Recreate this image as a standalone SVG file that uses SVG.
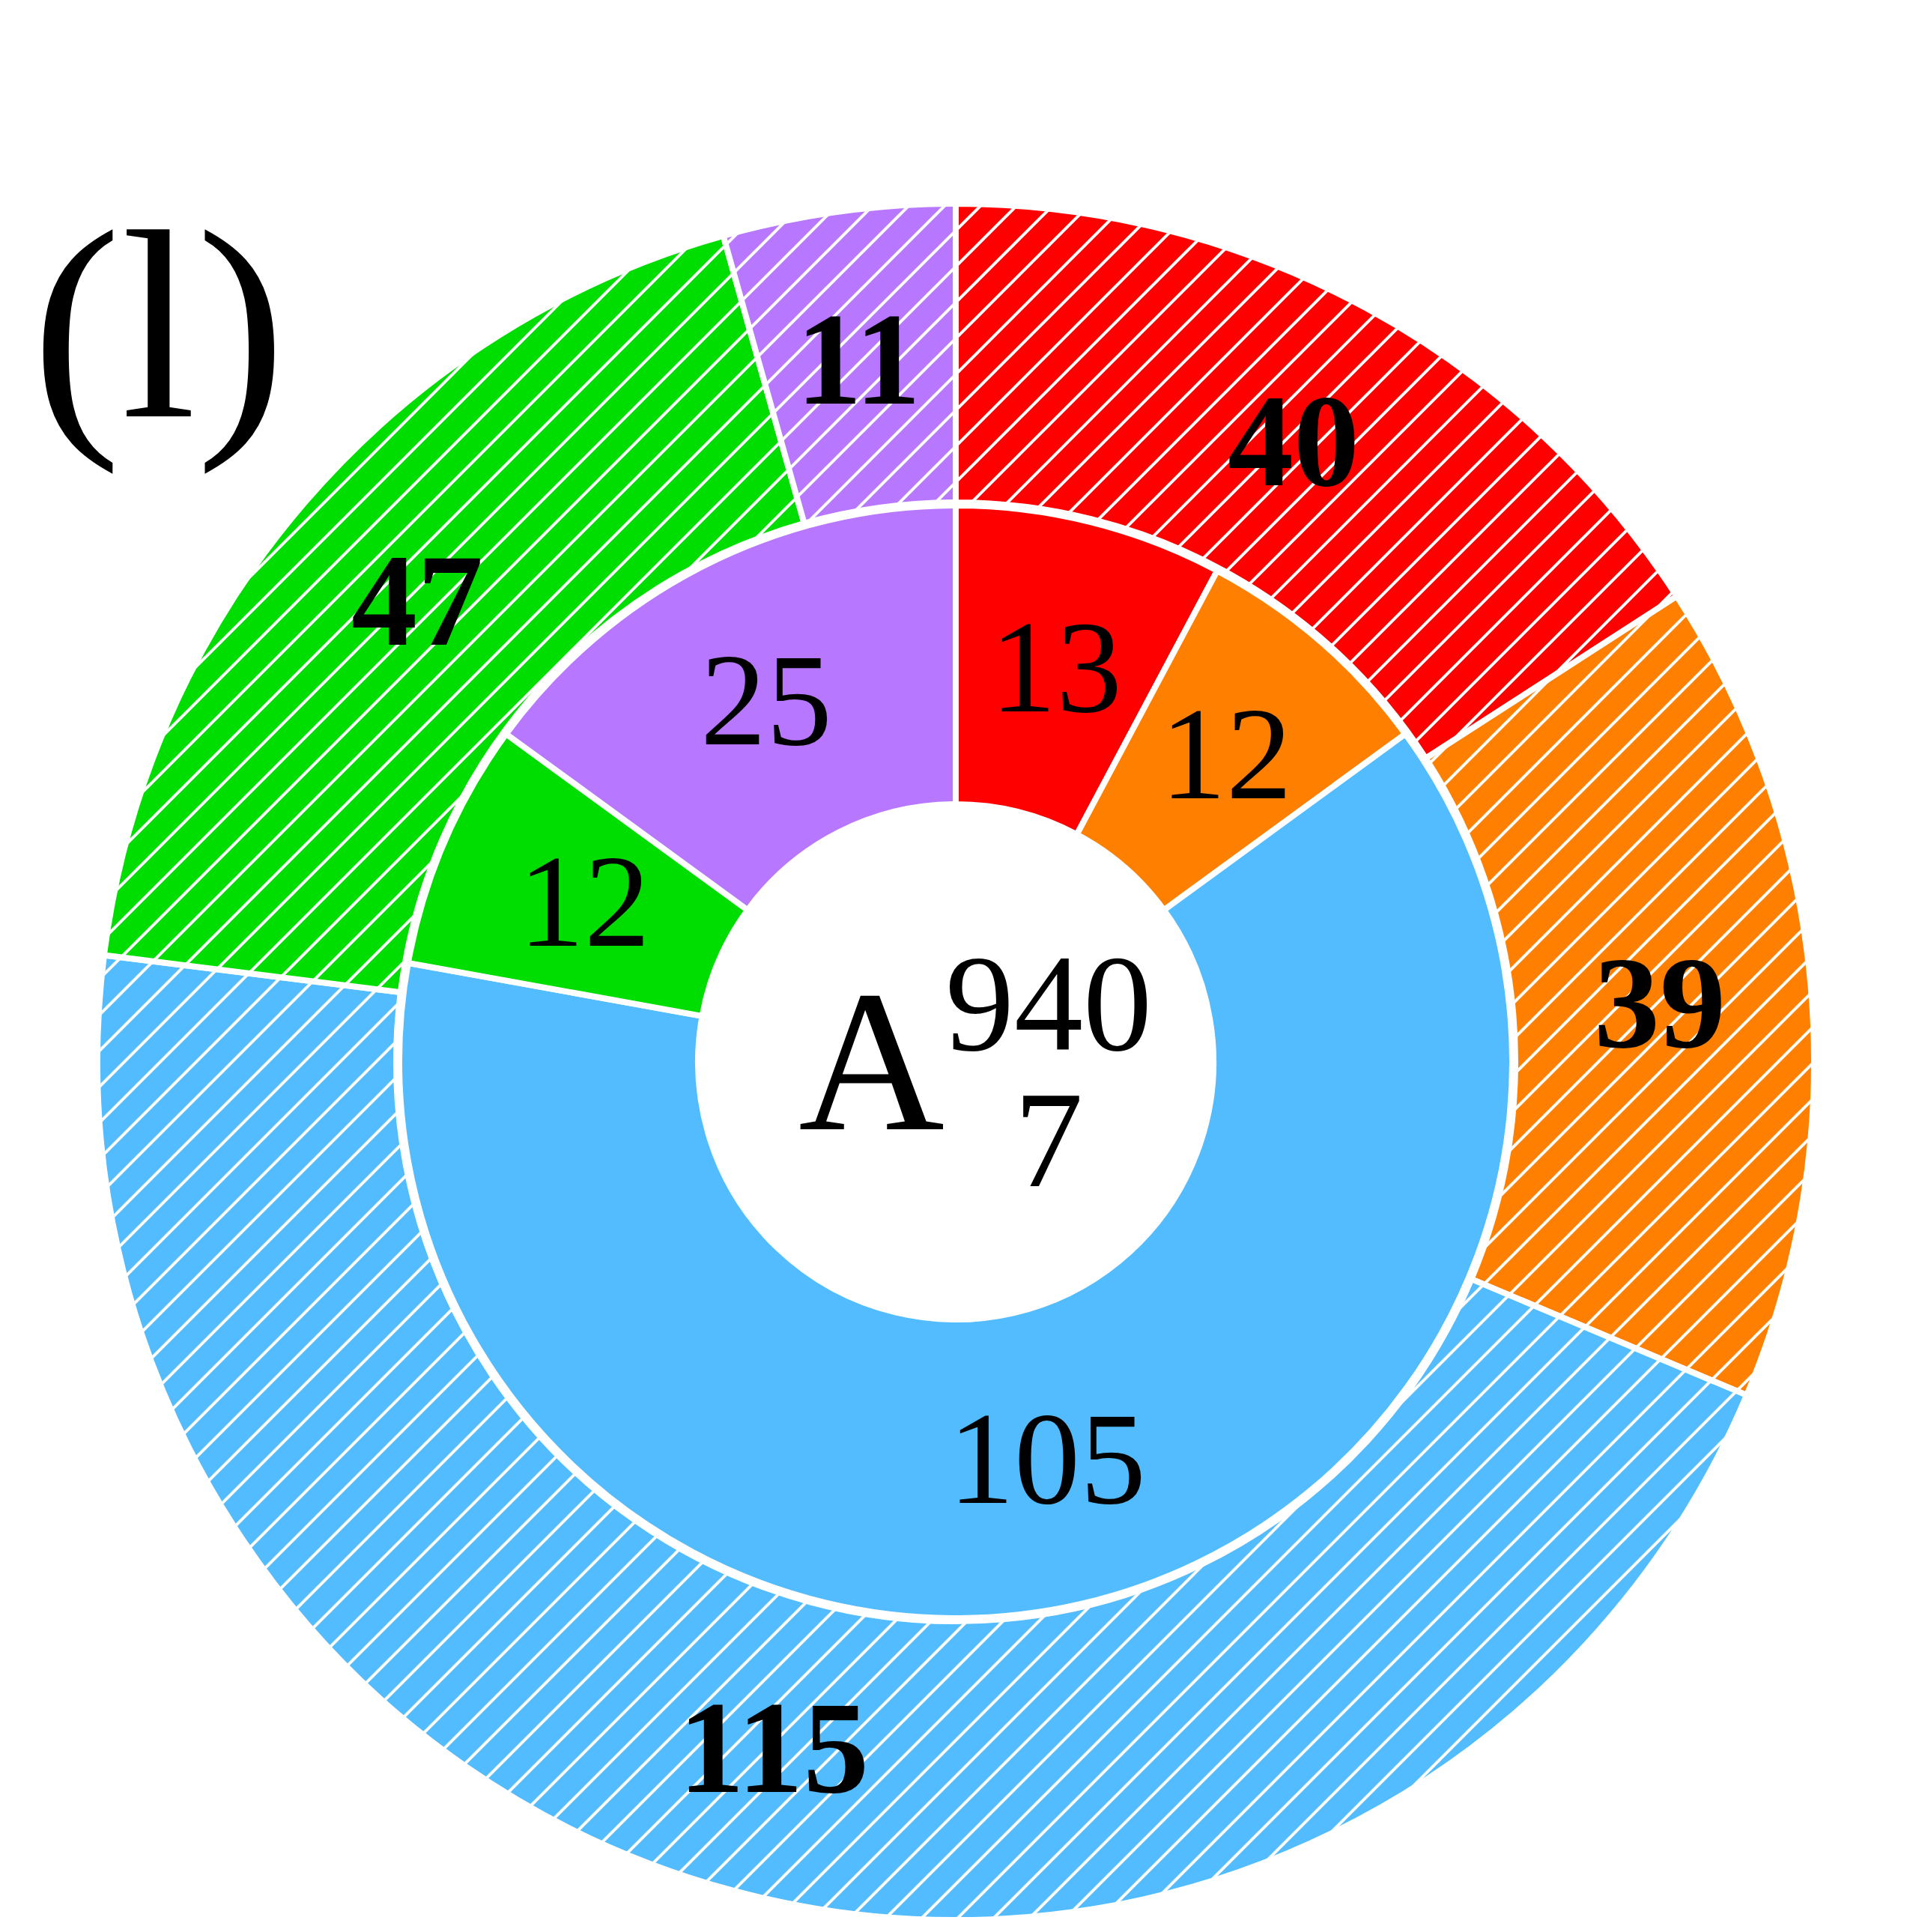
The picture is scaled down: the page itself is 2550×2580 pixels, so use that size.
<svg xmlns="http://www.w3.org/2000/svg" width="2550" height="2580" viewBox="0 0 2550 2580">
<style>
.w{stroke:#fff;stroke-width:8;stroke-linejoin:miter}
.h{fill:url(#hatch);stroke:none}
.t{font-family:"Liberation Serif","Times New Roman",serif;fill:#000}
.lab{font-size:176px;text-anchor:middle}
.b{font-weight:bold}
</style>
<defs>
<pattern id="hatch" patternUnits="userSpaceOnUse" width="48" height="48">
<path d="M-12,12 L12,-12 M0,48 L48,0 M36,60 L60,36" stroke="#fff" stroke-width="4"/>
</pattern>
</defs>
<rect width="2550" height="2580" fill="#fff"/>
<g id="outer-red">
<path class="w" fill="#ff0000" d="M1276,272 A1146,1146 0 0 1 2238.67,796.24 L1903.50,1012.72 A747,747 0 0 0 1276,671 Z"/>
<path class="h" d="M1276,272 A1146,1146 0 0 1 2238.67,796.24 L1903.50,1012.72 A747,747 0 0 0 1276,671 Z"/>
</g>
<g id="outer-orange">
<path class="w" fill="#ff8000" d="M2238.67,796.24 A1146,1146 0 0 1 2332.02,1863.14 L1964.35,1708.16 A747,747 0 0 0 1903.50,1012.72 Z"/>
<path class="h" d="M2238.67,796.24 A1146,1146 0 0 1 2332.02,1863.14 L1964.35,1708.16 A747,747 0 0 0 1903.50,1012.72 Z"/>
</g>
<g id="outer-blue">
<path class="w" fill="#52bcff" d="M2332.02,1863.14 A1146,1146 0 0 1 138.89,1275.50 L534.80,1325.12 A747,747 0 0 0 1964.35,1708.16 Z"/>
<path class="h" d="M2332.02,1863.14 A1146,1146 0 0 1 138.89,1275.50 L534.80,1325.12 A747,747 0 0 0 1964.35,1708.16 Z"/>
</g>
<g id="outer-green">
<path class="w" fill="#00dd00" d="M138.89,1275.50 A1146,1146 0 0 1 965.62,314.83 L1073.68,698.92 A747,747 0 0 0 534.80,1325.12 Z"/>
<path class="h" d="M138.89,1275.50 A1146,1146 0 0 1 965.62,314.83 L1073.68,698.92 A747,747 0 0 0 534.80,1325.12 Z"/>
</g>
<g id="outer-purple">
<path class="w" fill="#b877ff" d="M965.62,314.83 A1146,1146 0 0 1 1276,272 L1276,671 A747,747 0 0 0 1073.68,698.92 Z"/>
<path class="h" d="M965.62,314.83 A1146,1146 0 0 1 1276,272 L1276,671 A747,747 0 0 0 1073.68,698.92 Z"/>
</g>
<g id="inner-red">
<path class="w" fill="#ff0000" d="M1276,675 A743,743 0 0 1 1625.09,762.12 L1437.62,1114.33 A344,344 0 0 0 1276,1074 Z"/>
</g>
<g id="inner-orange">
<path class="w" fill="#ff8000" d="M1625.09,762.12 A743,743 0 0 1 1876.28,980.14 L1553.92,1215.27 A344,344 0 0 0 1437.62,1114.33 Z"/>
</g>
<g id="inner-blue">
<path class="w" fill="#52bcff" d="M1876.28,980.14 A743,743 0 1 1 544.83,1285.91 L937.48,1356.84 A344,344 0 1 0 1553.92,1215.27 Z"/>
</g>
<g id="inner-green">
<path class="w" fill="#00dd00" d="M544.83,1285.91 A743,743 0 0 1 675.72,980.14 L998.08,1215.27 A344,344 0 0 0 937.48,1356.84 Z"/>
</g>
<g id="inner-purple">
<path class="w" fill="#b877ff" d="M675.72,980.14 A743,743 0 0 1 1276,675 L1276,1074 A344,344 0 0 0 998.08,1215.27 Z"/>
</g>
<g id="labels-inner" class="t lab">
<text x="1410" y="950">13</text>
<text x="1637" y="1066">12</text>
<text x="1398" y="2007">105</text>
<text x="780" y="1263">12</text>
<text x="1023" y="994">25</text>
</g>
<g id="labels-outer" class="t lab b">
<text x="1727" y="648">40</text>
<text x="2216" y="1398">39</text>
<text x="1033" y="2393">115</text>
<text x="557" y="861">47</text>
<text x="1146" y="539">11</text>
</g>
<g id="center-label" class="t">
<text x="1066" y="1508" font-size="270">A</text>
<text x="1400" y="1402" font-size="184" text-anchor="middle">940</text>
<text x="1400" y="1584" font-size="184" text-anchor="middle">7</text>
</g>
<g id="panel-label" class="t">
<text x="42" y="556" font-size="360">(l)</text>
</g>
</svg>
